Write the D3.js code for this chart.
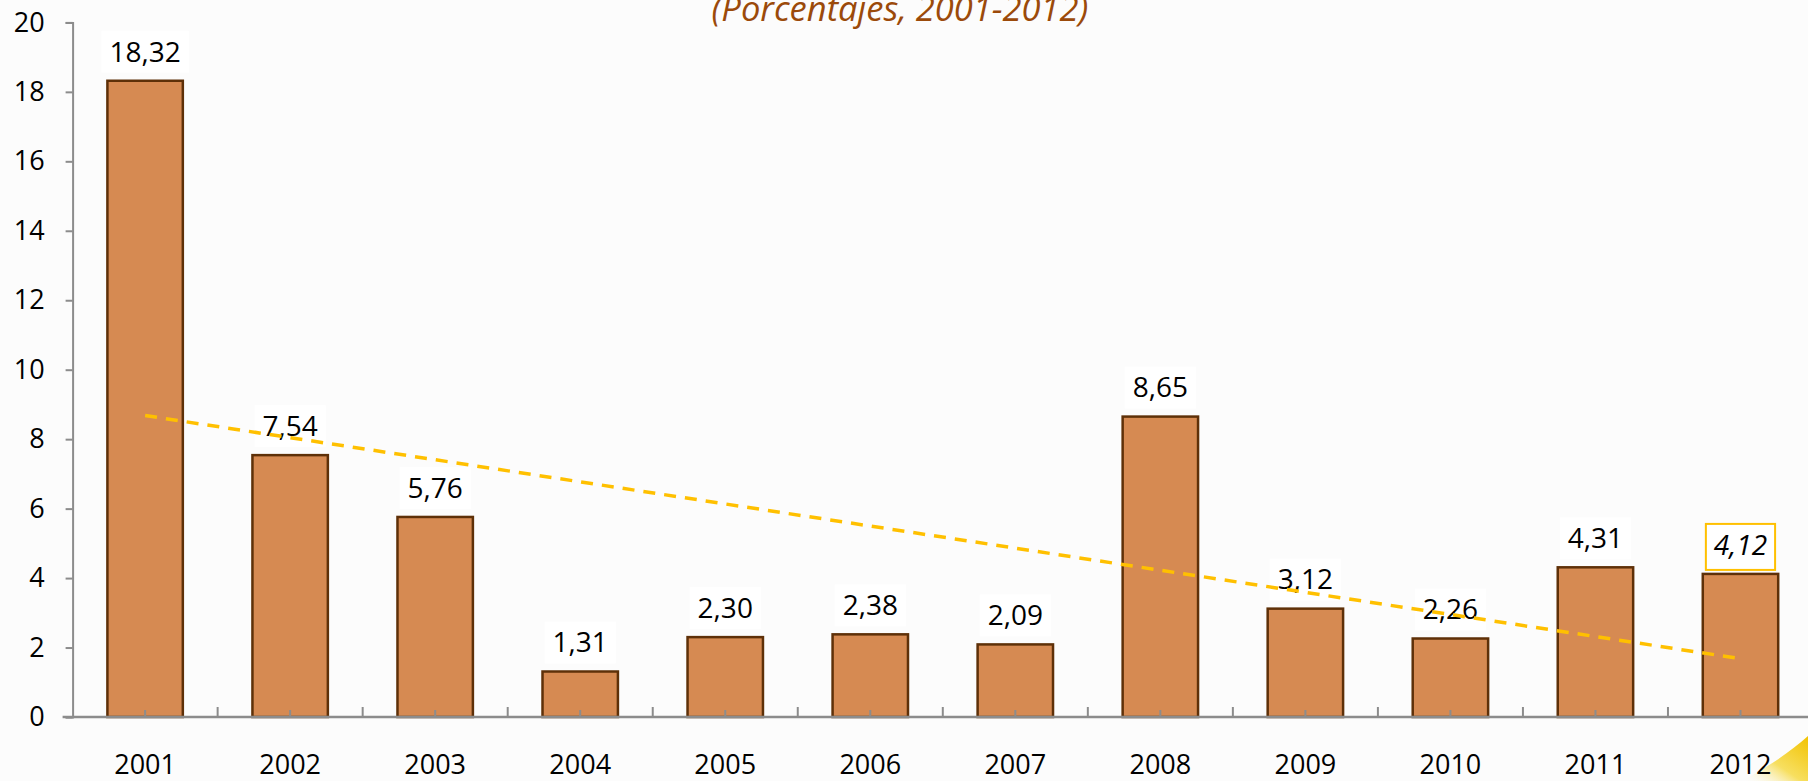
<!DOCTYPE html>
<html>
<head>
<meta charset="utf-8">
<script src="https://cdn.jsdelivr.net/npm/d3@7"></script>
<style>
  html, body { margin: 0; padding: 0; background: #fcfcfc; overflow: hidden; }
  svg { display: block; font-family: "Open Sans", sans-serif; }
</style>
</head>
<body>
<script>
// Chart data
const years = ["2001", "2002", "2003", "2004", "2005", "2006", "2007", "2008", "2009", "2010", "2011", "2012"];
const values = [18.32, 7.54, 5.76, 1.31, 2.30, 2.38, 2.09, 8.65, 3.12, 2.26, 4.31, 4.12];
const yTicks = [0, 2, 4, 6, 8, 10, 12, 14, 16, 18, 20];
// linear trend line end points (first and last year)
const trendYears = ["2001", "2012"];
const trendValues = [8.68, 1.68];
const subtitle = "(Porcentajes, 2001-2012)";

const width = 1808, height = 781;

const svg = d3.select("body").append("svg")
    .attr("width", width)
    .attr("height", height);

// soft yellow swoosh in the bottom right corner
const grad = svg.append("defs").append("linearGradient")
    .attr("id", "swoosh")
    .attr("x1", "0%").attr("y1", "100%")
    .attr("x2", "100%").attr("y2", "0%");
grad.append("stop").attr("offset", "0%").attr("stop-color", "#fcfcfc").attr("stop-opacity", 0);
grad.append("stop").attr("offset", "45%").attr("stop-color", "#f7df60");
grad.append("stop").attr("offset", "100%").attr("stop-color", "#f2c200");
svg.append("path")
    .attr("d", "M1742,781 C1768,767 1790,752 1808,736 L1808,781 Z")
    .attr("fill", "url(#swoosh)");

// Scales
const x = d3.scaleBand()
    .domain(years)
    .range([72.6, 1813])
    .paddingInner(0.48)
    .paddingOuter(0.24);

const y = d3.scaleLinear()
    .domain([0, 20])
    .range([717, 22.4]);

// Subtitle (cut at the top of the picture)
svg.append("text")
    .attr("x", 900)
    .attr("y", 21)
    .attr("text-anchor", "middle")
    .attr("font-size", 34.5)
    .attr("font-style", "italic")
    .attr("fill", "#9b4a0a")
    .text(subtitle);

// Y axis
const yAxis = svg.append("g")
    .attr("transform", `translate(${x.range()[0]},0)`)
    .call(d3.axisLeft(y).tickValues(yTicks).tickSize(7).tickPadding(21).tickSizeOuter(7));
yAxis.selectAll("path, line").attr("stroke", "#8c8c8c").attr("stroke-width", 2);
yAxis.selectAll("text").attr("font-size", 27).attr("font-family", "Open Sans, sans-serif").attr("fill", "#000");

// Bars
svg.append("g").selectAll("rect")
    .data(values)
    .enter().append("rect")
    .attr("x", (d, i) => x(years[i]))
    .attr("y", d => y(d))
    .attr("width", x.bandwidth())
    .attr("height", d => y(0) - y(d))
    .attr("fill", "#d68a52")
    .attr("stroke", "#5e3008")
    .attr("stroke-width", 2.5);

// X axis line with ticks between bands and at band centres
const xAxis = svg.append("g");
xAxis.append("line")
    .attr("x1", x.range()[0] - 10)
    .attr("x2", width)
    .attr("y1", y(0)).attr("y2", y(0))
    .attr("stroke", "#8c8c8c").attr("stroke-width", 2.5);
xAxis.selectAll(".bt")
    .data(years)
    .enter().append("line")
    .attr("x1", d => x(d) - x.step() * x.paddingInner() / 2 + x.step())
    .attr("x2", d => x(d) - x.step() * x.paddingInner() / 2 + x.step())
    .attr("y1", y(0)).attr("y2", y(0) - 10)
    .attr("stroke", "#8c8c8c").attr("stroke-width", 2);
xAxis.selectAll(".ct")
    .data(years)
    .enter().append("line")
    .attr("x1", d => x(d) + x.bandwidth() / 2)
    .attr("x2", d => x(d) + x.bandwidth() / 2)
    .attr("y1", y(0)).attr("y2", y(0) - 7)
    .attr("stroke", "#8c8c8c").attr("stroke-width", 2);
xAxis.selectAll("text")
    .data(years)
    .enter().append("text")
    .attr("x", d => x(d) + x.bandwidth() / 2)
    .attr("y", 765)
    .attr("dy", "0.35em")
    .attr("text-anchor", "middle")
    .attr("font-size", 27)
    .attr("fill", "#000")
    .text(d => d);

// Value labels with white boxes
const fmt = v => d3.format(".2f")(v).replace(".", ",");
const labels = svg.append("g").selectAll("g")
    .data(values)
    .enter().append("g")
    .attr("transform", (d, i) => `translate(${x(years[i]) + x.bandwidth() / 2},${y(d) - 29})`);
labels.append("text")
    .attr("text-anchor", "middle")
    .attr("dy", "0.35em")
    .attr("font-size", 28)
    .attr("font-style", (d, i) => i === values.length - 1 ? "italic" : "normal")
    .attr("fill", "#000")
    .text(d => fmt(d));
labels.each(function(d, i) {
    const g = d3.select(this);
    const bb = g.select("text").node().getBBox();
    const last = i === values.length - 1;
    g.insert("rect", "text")
        .attr("x", bb.x - 8)
        .attr("y", -21)
        .attr("width", bb.width + 16)
        .attr("height", last ? 46 : 42)
        .attr("fill", "#fff")
        .attr("stroke", last ? "#ffc000" : "none")
        .attr("stroke-width", 2);
});

// Dashed linear trend line, drawn over the labels
svg.append("line")
    .attr("x1", x(trendYears[0]) + x.bandwidth() / 2)
    .attr("y1", y(trendValues[0]))
    .attr("x2", x(trendYears[1]) + x.bandwidth() / 2)
    .attr("y2", y(trendValues[1]))
    .attr("stroke", "#ffc000")
    .attr("stroke-width", 3.5)
    .attr("stroke-dasharray", "12,9");
</script>
</body>
</html>
